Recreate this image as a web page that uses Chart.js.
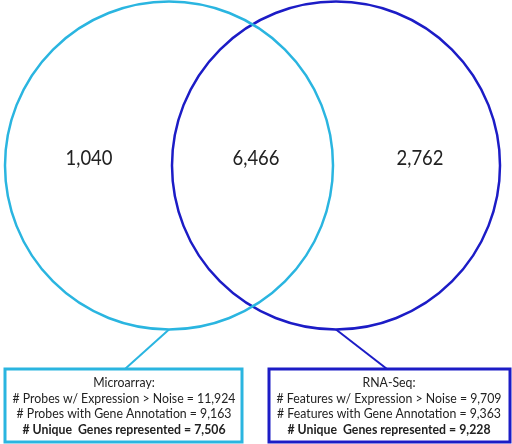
<!DOCTYPE html>
<html>
<head>
<meta charset="utf-8">
<script src="https://cdn.jsdelivr.net/npm/chart.js@4"></script>
<style>
  html, body { margin: 0; padding: 0; background: #fff; }
  #wrap { width: 512px; height: 444px; }
</style>
</head>
<body>
<div id="wrap"><canvas id="chart"></canvas></div>
<script>
// data
var setNames = ["Microarray", "RNA-Seq"];
var setColors = ["#2AB5E0", "#1C1CC6"];
var regionLabels = ["Microarray only", "Both", "RNA-Seq only"];
var regionCounts = [1040, 6466, 2762];
var microarrayLines = [
    "Microarray:",
    "# Probes w/ Expression > Noise = 11,924",
    "# Probes with Gene Annotation = 9,163",
    "# Unique  Genes represented = 7,506"
];
var rnaSeqLines = [
    "RNA-Seq:",
    "# Features w/ Expression > Noise = 9,709",
    "# Features with Gene Annotation = 9,363",
    "# Unique  Genes represented = 9,228"
];

// layout (scale units = canvas pixels)
var circleCenters = [{x: 169, y: 165.5}, {x: 336, y: 165.5}];
var circleRadius = 164;
var regionX = [89, 256, 420];
var regionY = 158;
var boxes = [
    {x0: 5, x1: 242, y0: 369, y1: 442, cx: 124, hook: {x: 125, y: 369}},
    {x0: 269, x1: 510, y0: 369, y1: 442, cx: 389, hook: {x: 387, y: 369}}
];
var fontFamily = "Lato, 'Open Sans', sans-serif";

function fmt(n) { return n.toLocaleString("en-US"); }

// narrow text a bit (reference uses a condensed face)
function narrowText(c, txt, x, y, squeeze) {
    var w = c.measureText(txt).width;
    c.fillText(txt, x, y, w * squeeze);
}

var vennPlugin = {
    id: "venn",
    afterDatasetsDraw: function(chart) {
        var c = chart.ctx;
        var xs = chart.scales.x, ys = chart.scales.y;
        c.save();
        // region counts
        c.fillStyle = "#222";
        c.font = "21px " + fontFamily;
        c.textAlign = "center";
        c.textBaseline = "middle";
        for (var i = 0; i < regionCounts.length; i++) {
            narrowText(c, fmt(regionCounts[i]), xs.getPixelForValue(regionX[i]), ys.getPixelForValue(regionY), 0.88);
        }
        // connector lines + boxes
        var textSets = [microarrayLines, rnaSeqLines];
        for (var b = 0; b < boxes.length; b++) {
            var bx = boxes[b];
            var cc = circleCenters[b];
            c.strokeStyle = setColors[b];
            c.lineWidth = 2;
            c.beginPath();
            c.moveTo(xs.getPixelForValue(cc.x), ys.getPixelForValue(cc.y + circleRadius));
            c.lineTo(xs.getPixelForValue(bx.hook.x), ys.getPixelForValue(bx.hook.y));
            c.stroke();
            c.lineWidth = 3;
            var px0 = xs.getPixelForValue(bx.x0), px1 = xs.getPixelForValue(bx.x1);
            var py0 = ys.getPixelForValue(bx.y0), py1 = ys.getPixelForValue(bx.y1);
            c.fillStyle = "#fff";
            c.fillRect(px0, py0, px1 - px0, py1 - py0);
            c.strokeRect(px0, py0, px1 - px0, py1 - py0);
            var lines = textSets[b];
            c.fillStyle = "#222";
            for (var l = 0; l < lines.length; l++) {
                var bold = (l === lines.length - 1);
                c.font = (bold ? "bold " : "") + "13.5px " + fontFamily;
                narrowText(c, lines[l], xs.getPixelForValue(bx.cx), ys.getPixelForValue(382.5 + l * 15.7), 0.91);
            }
        }
        c.restore();
    }
};

var datasets = [];
for (var s = 0; s < setNames.length; s++) {
    datasets.push({
        label: setNames[s],
        data: [circleCenters[s]],
        pointRadius: circleRadius,
        pointHoverRadius: circleRadius,
        pointBorderWidth: 2.5,
        pointHoverBorderWidth: 2.5,
        borderColor: setColors[s],
        backgroundColor: "rgba(0,0,0,0)",
        clip: false
    });
}

var myChart = new Chart(document.getElementById("chart"), {
    type: "scatter",
    data: {datasets: datasets},
    options: {
        responsive: true,
        maintainAspectRatio: false,
        animation: false,
        layout: {padding: 0, autoPadding: false},
        plugins: {legend: {display: false}, tooltip: {enabled: false}},
        events: [],
        scales: {
            x: {type: "linear", min: 0, max: 512, display: false},
            y: {type: "linear", min: 0, max: 444, reverse: true, display: false}
        }
    },
    plugins: [vennPlugin]
});
</script>
</body>
</html>
